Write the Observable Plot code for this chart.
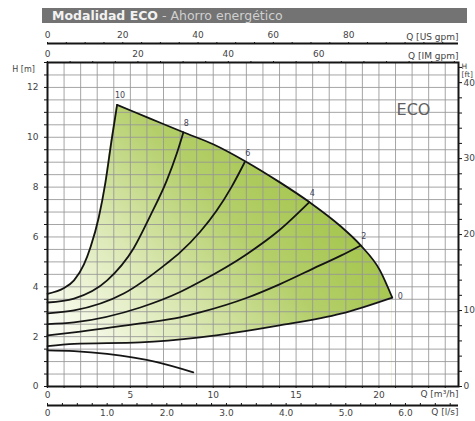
<!DOCTYPE html>
<html>
<head>
<meta charset="utf-8">
<script src="https://cdn.jsdelivr.net/npm/d3@7"></script>
<script src="https://cdn.jsdelivr.net/npm/@observablehq/plot@0.6"></script>
<style>
  body { margin: 0; background: #fff; }
  #wrap { position: relative; width: 475px; height: 421px; overflow: hidden; }
  #title { position: absolute; left: 42px; top: 8px; width: 425px; height: 15px; background: #737373;
           font-family: "DejaVu Sans", sans-serif; font-size: 12.5px; line-height: 15px; padding-left: 10px;
           box-sizing: border-box; white-space: nowrap; color: #fff; }
  #title b { font-weight: bold; color: #f2f2f2; }
  #title span { color: #d0d0d0; }
</style>
</head>
<body>
<div id="wrap">
  <div id="chart"></div>
  <div id="title"><b>Modalidad ECO</b><span> - Ahorro energético</span></div>
</div>
<script>
// ---- data (Q in m³/h, H in m) ----
const speeds = ["10", "8", "6", "4", "2", "0"];
const curve10 = [[0,3.72],[1,3.95],[1.6,4.26],[2.2,4.9],[2.6,5.6],[3.1,6.8],[3.5,8.2],[3.85,9.8],[4.2,11.3]];
const curve8  = [[0,3.37],[1.6,3.53],[3.6,4.26],[5.2,5.55],[6.2,6.85],[7.2,8.27],[7.8,9.35],[8.2,10.2]];
const curve6  = [[0,2.93],[1.6,3.05],[4.6,3.73],[7.2,4.94],[8.0,5.38],[9.2,6.2],[10.2,7.05],[11.1,8.0],[11.9,9.0]];
const curve4  = [[0,2.5],[1.6,2.57],[5.6,3.17],[8,3.79],[9.2,4.2],[12,5.3],[14,6.28],[15.8,7.4]];
const curve2  = [[0,2.05],[1.6,2.17],[5.6,2.53],[8,2.77],[9.2,2.97],[12,3.55],[14,4.1],[16.4,4.85],[17.7,5.25],[18.9,5.66]];
const curve0  = [[0,1.62],[1.6,1.71],[5.6,1.77],[9.2,1.97],[14,2.45],[17.7,2.92],[20.8,3.57]];
const curveMin = [[0,1.45],[1.6,1.42],[3.6,1.31],[6.6,0.98],[8.8,0.57]];
const envelope = [[4.2,11.3],[6.2,10.75],[8.2,10.2],[10.0,9.72],[11.9,9.05],[14,8.2],[15.8,7.4],[17.65,6.45],[18.9,5.66],[20.06,4.66],[20.8,3.57]];

// ---- axis ticks ----
const m3hTicks = [0, 5, 10, 15, 20];
const m3hMinor = d3.range(0, 25, 1);
const lsTicks = [0, 1, 2, 3, 4, 5, 6];
const lsMinor = d3.range(0, 6.9, 0.25);
const usGpmTicks = [0, 20, 40, 60, 80];
const usGpmMinor = d3.range(0, 109, 5);
const imGpmTicks = [0, 20, 40, 60];
const imGpmMinor = d3.range(0, 91, 5);
const mTicks = [0, 2, 4, 6, 8, 10, 12];
const mMinor = d3.range(0, 13.01, 0.5);
const ftTicks = [0, 10, 20, 30, 40];
const ftMinor = d3.range(0, 43, 2);
const qGrid = d3.range(1, 25, 1);
const hGrid = d3.range(0.5, 13, 0.5);

// unit conversions to m³/h and m
const M3H_PER_LS = 3.6, M3H_PER_USGPM = 1 / 4.40287, M3H_PER_IMGPM = 1 / 3.66615, M_PER_FT = 0.3048;
const xMax = 24.8, yMax = 13;

const curves = [curve10, curve8, curve6, curve4, curve2, curve0];
const rows = curves.flatMap((c, i) => c.map(([q, h]) => ({speed: speeds[i], q, h})));
const labelRows = curves.map((c, i) => ({speed: speeds[i], q: c[c.length - 1][0], h: c[c.length - 1][1]}));

const ink = "#151515", txt = "#444", fs = 9;
const font = "'DejaVu Sans', sans-serif";
const X = d => d[0], Y = d => d[1];
const noLab = {label: null};

const plot = Plot.plot({
  width: 475, height: 421,
  marginTop: 62, marginBottom: 35, marginLeft: 47, marginRight: 17,
  x: {domain: [0, xMax], axis: null},
  y: {domain: [0, yMax], axis: null},
  style: {fontFamily: font, fontSize: fs + "px", color: ink, background: "#fff"},
  marks: [
    // green operating field: under curve 10 and the envelope, masked white under curve 0
    Plot.areaY(envelope, {x: X, y: Y, curve: "monotone-x", fill: "url(#ecoFill)"}),
    Plot.areaY(curve10, {x: X, y: Y, curve: "monotone-x", fill: "url(#ecoFill)", stroke: "url(#ecoFill)", strokeWidth: 1}),
    Plot.areaY(curve0, {x: X, y: Y, curve: "monotone-x", fill: "#fff"}),
    Plot.gridX(qGrid, {stroke: "#959595", strokeOpacity: 0.85}),
    Plot.gridY(hGrid, {stroke: "#959595", strokeOpacity: 0.85}),
    Plot.line(rows, {x: "q", y: "h", z: "speed", curve: "monotone-x", stroke: ink, strokeWidth: 1.8}),
    Plot.line(envelope, {x: X, y: Y, curve: "monotone-x", stroke: ink, strokeWidth: 1.8}),
    Plot.line(curveMin, {x: X, y: Y, curve: "monotone-x", stroke: ink, strokeWidth: 1.8}),
    Plot.text(labelRows.filter(d => d.speed !== "0"), {x: "q", y: "h", text: "speed", dx: 3, dy: -9, fontSize: 8, fill: "#445"}),
    Plot.text(labelRows.filter(d => d.speed === "0"), {x: "q", y: "h", text: "speed", dx: 8, dy: -1, fontSize: 8, fill: "#445"}),
    Plot.frame({stroke: ink, strokeWidth: 2}),

    // bottom Q [m³/h]
    Plot.axisX(m3hMinor, {...noLab, anchor: "bottom", tickSize: 2, tickFormat: () => "", stroke: ink}),
    Plot.axisX(m3hTicks, {...noLab, anchor: "bottom", tickSize: 0, tickPadding: 5, fill: txt}),
    Plot.text(["Q [m³/h]"], {frameAnchor: "bottom-right", dy: 10, textAnchor: "end", fill: txt}),

    // bottom Q [l/s]
    Plot.ruleY([0], {dy: 19, stroke: ink, strokeWidth: 2}),
    Plot.axisX(lsMinor.map(v => v * M3H_PER_LS), {...noLab, anchor: "bottom", dy: 19, tickSize: -2, tickFormat: () => "", stroke: ink}),
    Plot.axisX(lsTicks.map(v => v * M3H_PER_LS), {...noLab, anchor: "bottom", dy: 19, tickSize: 0, tickPadding: 4, fill: txt,
      tickFormat: d => { const v = Math.round(d / M3H_PER_LS); return v === 0 ? "0" : v.toFixed(1); }}),
    Plot.text(["Q [l/s]"], {frameAnchor: "bottom-right", dy: 28, textAnchor: "end", fill: txt}),

    // top Q [US gpm]
    Plot.ruleY([yMax], {dy: -19, stroke: ink, strokeWidth: 2}),
    Plot.axisX(usGpmMinor.map(v => v * M3H_PER_USGPM), {...noLab, anchor: "top", dy: -19, tickSize: 2, tickFormat: () => "", stroke: ink}),
    Plot.axisX(usGpmTicks.map(v => v * M3H_PER_USGPM), {...noLab, anchor: "top", dy: -19, tickSize: 0, tickPadding: 6, fill: txt,
      tickFormat: d => String(Math.round(d / M3H_PER_USGPM))}),
    Plot.text(["Q [US gpm]"], {frameAnchor: "top-right", dy: -29, textAnchor: "end", fill: txt}),

    // top Q [IM gpm]
    Plot.axisX(imGpmMinor.map(v => v * M3H_PER_IMGPM), {...noLab, anchor: "top", tickSize: 2, tickFormat: () => "", stroke: ink}),
    Plot.axisX(imGpmTicks.map(v => v * M3H_PER_IMGPM), {...noLab, anchor: "top", tickSize: 0, tickPadding: 6, fill: txt,
      tickFormat: d => String(Math.round(d / M3H_PER_IMGPM))}),
    Plot.text(["Q [IM gpm]"], {frameAnchor: "top-right", dy: -10, textAnchor: "end", fill: txt}),

    // left H [m]
    Plot.axisY(mMinor, {...noLab, anchor: "left", tickSize: 3, tickFormat: () => "", stroke: ink}),
    Plot.axisY(mTicks, {...noLab, anchor: "left", tickSize: 0, tickPadding: 9, fill: txt}),
    Plot.text(["H [m]"], {frameAnchor: "top-left", dx: -24, dy: 4, textAnchor: "middle", fontSize: 8, fill: txt}),

    // right H [ft]
    Plot.axisY(ftMinor.map(v => v * M_PER_FT), {...noLab, anchor: "right", tickSize: 3, tickFormat: () => "", stroke: ink}),
    Plot.axisY(ftTicks.map(v => v * M_PER_FT), {...noLab, anchor: "right", tickSize: 0, tickPadding: 5, fill: txt,
      tickFormat: d => String(Math.round(d / M_PER_FT))}),
    Plot.text(["H\n[ft]"], {frameAnchor: "top-right", dx: 3, dy: 8, textAnchor: "start", lineAnchor: "middle", lineHeight: 1.05, fontSize: 7.5, fill: txt}),

    Plot.text(["ECO"], {frameAnchor: "top-right", dx: -45, dy: 41, textAnchor: "middle", fontSize: 16, fill: "#606060"})
  ]
});

// gradient placed through the plot's own scales (lower-left pale → upper-right green)
const sx = plot.scale("x"), sy = plot.scale("y");
const defs = d3.select(plot).insert("defs", ":first-child");
const g = defs.append("linearGradient").attr("id", "ecoFill").attr("gradientUnits", "userSpaceOnUse")
  .attr("x1", sx.apply(2)).attr("y1", sy.apply(1.5)).attr("x2", sx.apply(15)).attr("y2", sy.apply(9));
[[0, "#f8fbef"], [0.35, "#dbe8b3"], [0.7, "#b4cf6a"], [1, "#a5c64e"]].forEach(([o, c]) =>
  g.append("stop").attr("offset", o).attr("stop-color", c));

document.getElementById("chart").append(plot);
</script>
</body>
</html>
